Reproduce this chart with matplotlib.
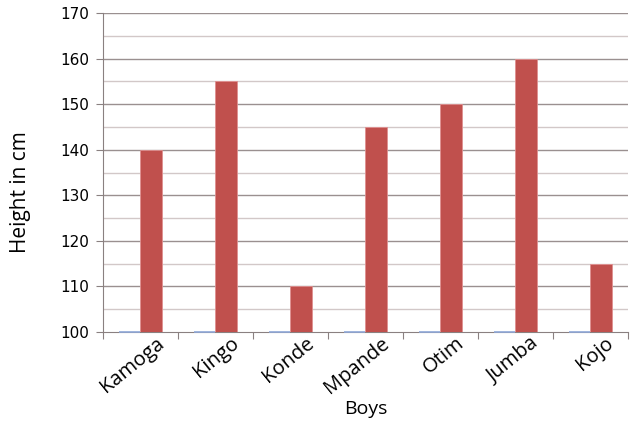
import numpy as np
import matplotlib.pyplot as plt
import matplotlib.transforms as mtransforms

# data
boys = ["Kamoga", "Kingo", "Konde", "Mpande", "Otim", "Jumba", "Kojo"]
heights = [140, 155, 110, 145, 150, 160, 115]
other_series = [0, 0, 0, 0, 0, 0, 0]   # empty first series, shows as a line on the axis

y_min, y_max = 100, 170

fig = plt.figure(figsize=(6.3, 4.25), dpi=100)
ax = fig.add_axes([0.1635, 0.219, 0.833, 0.75])

x = np.arange(len(boys))
w = 0.29

# gridlines: darker at tens, lighter at fives
for v in range(y_min + 5, y_max + 1, 5):
    col = '#9a9090' if v % 10 == 0 else '#d2c8c8'
    ax.axhline(v, color=col, linewidth=1.0, zorder=1)

blue = ax.bar(x - w / 2, other_series, w, bottom=y_min, color='#4F81BD',
              edgecolor='#8fa8d8', linewidth=1.2, zorder=4)
for b in blue:
    b.set_clip_on(False)
ax.bar(x + w / 2, heights, w, color='#C0504D', edgecolor='#e09090',
       linewidth=0.6, zorder=3)

ax.set_ylim(y_min, y_max)
ax.set_xlim(-0.5, len(boys) - 0.5)
ax.set_yticks(range(y_min, y_max + 1, 10))
ax.tick_params(axis='y', labelsize=11, length=5, color='#8a8080', pad=5)

# category ticks sit between the groups
ax.set_xticks(np.arange(-0.5, len(boys) - 0.4, 1), minor=False)
ax.set_xticklabels([])
ax.tick_params(axis='x', length=5, color='#8a8080')
ax.set_xticks(x, minor=True)
ax.set_xticklabels(boys, minor=True, rotation=39, ha='right', rotation_mode='anchor',
                   fontsize=14.5, family='Open Sans')
ax.tick_params(axis='x', which='minor', length=0, pad=1)
offset = mtransforms.ScaledTranslation(15 / 100, 0, fig.dpi_scale_trans)
for lbl in ax.get_xticklabels(minor=True):
    lbl.set_transform(lbl.get_transform() + offset)

for s in ['top', 'right']:
    ax.spines[s].set_visible(False)
ax.spines['left'].set_color('#8a8080')
ax.spines['bottom'].set_color('#8a8080')

ax.set_ylabel("Height in cm", fontsize=15, family='Open Sans')
ax.yaxis.set_label_coords(-0.137, 0.44)
ax.set_xlabel("Boys", fontsize=14, family='Open Sans', labelpad=2)

fig.savefig("out.png", dpi=100)
